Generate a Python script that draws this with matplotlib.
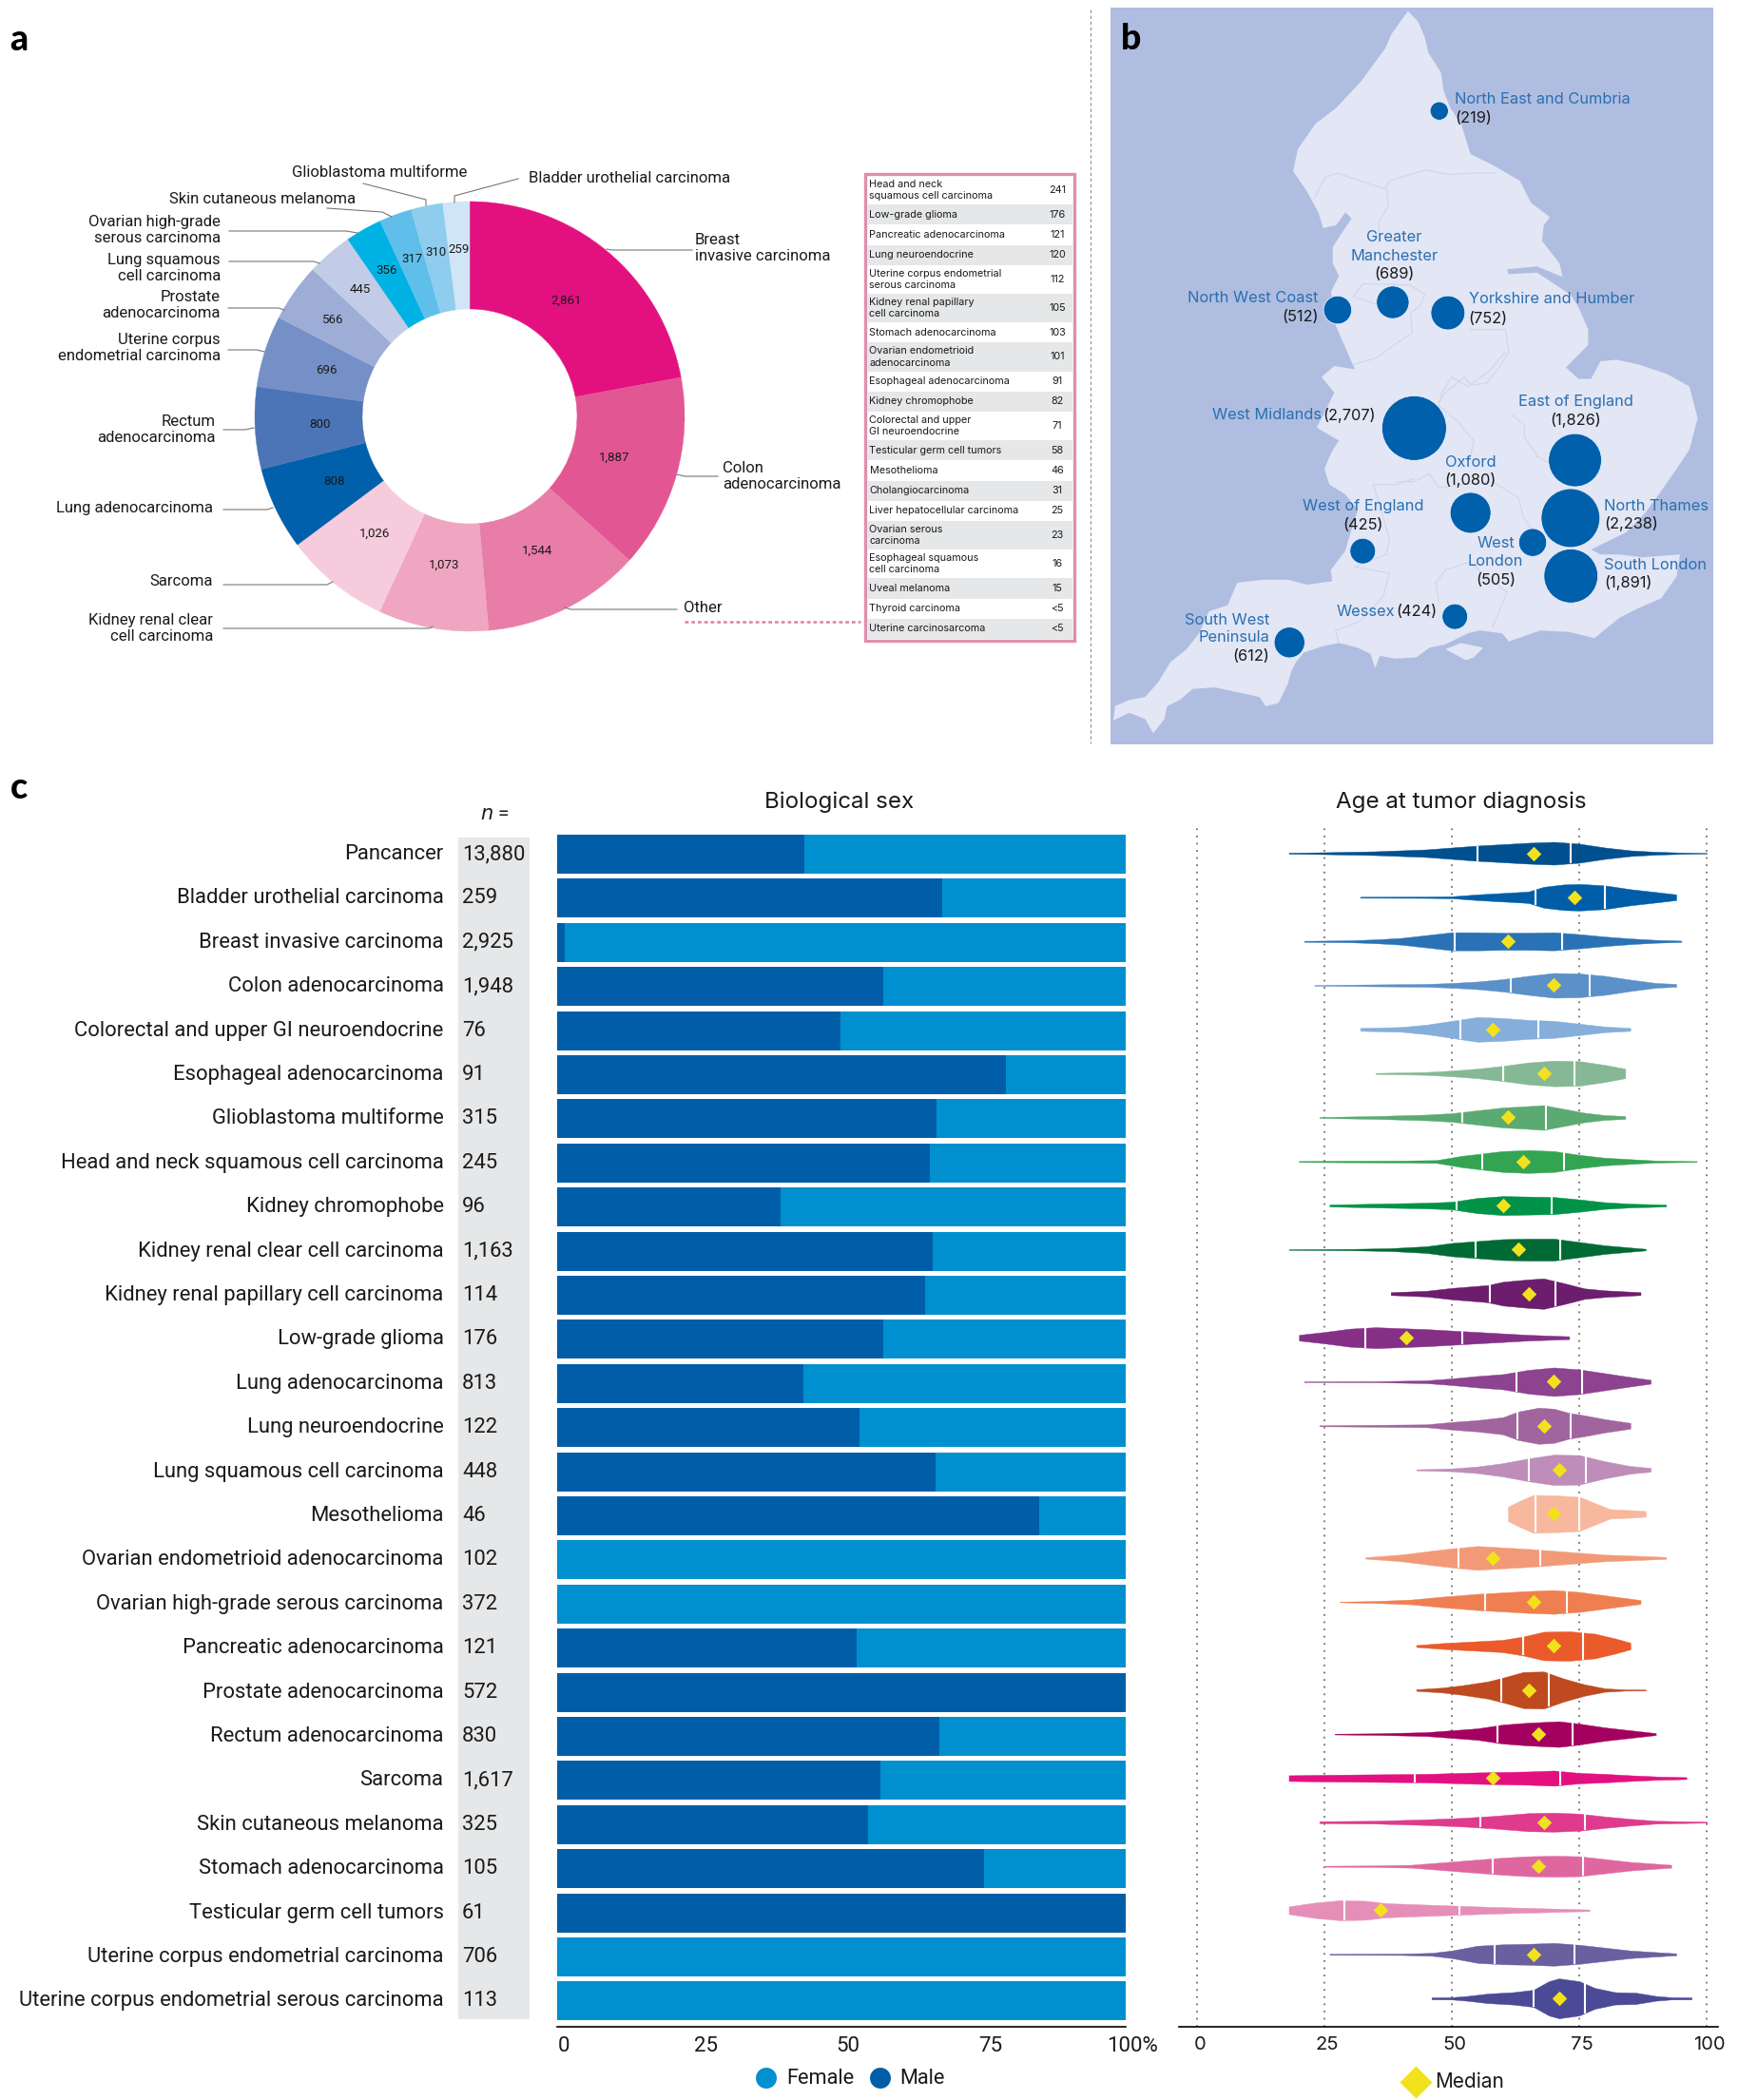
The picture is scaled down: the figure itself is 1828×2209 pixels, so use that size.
#!/usr/bin/env python3
"""
Cohort overview: tumour types, recruitment by region, sex and age by tumour type
"""

import matplotlib
matplotlib.use('Agg')
import matplotlib.pyplot as plt
from matplotlib.patches import Polygon, Rectangle
from matplotlib.transforms import ScaledTranslation
import numpy as np

plt.rcParams['font.family'] = ['Roboto', 'DejaVu Sans']

W, H = 1828, 2209
INK = '#1a1a1a'

# panel a
donut_names = ['Breast', 'Colon', 'Other', 'Kidney', 'Sarcoma', 'Lung adeno', 'Rectum', 'Uterine',
               'Prostate', 'Lung squamous', 'Ovarian', 'Skin', 'Glioblastoma', 'Bladder']
donut_values = [2861, 1887, 1544, 1073, 1026, 808, 800, 696, 566, 445, 356, 317, 310, 259]
donut_colors = ['#E3117F', '#E35694', '#E87DA8', '#F0A6C1', '#F6CCDC', '#0060AC', '#4C75B7',
                '#7590C6', '#9EADD6', '#C3CCE6', '#00B2E3', '#5FBFEA', '#8FCDEF', '#D0E6F6']

donut_labels = [
    ('Glioblastoma multiforme', 307, 182, 'left'),
    ('Bladder urothelial carcinoma', 556, 187, 'left'),
    ('Skin cutaneous melanoma', 374, 210, 'right'),
    ('Ovarian high-grade\nserous carcinoma', 232, 242, 'right'),
    ('Lung squamous\ncell carcinoma', 232, 282, 'right'),
    ('Prostate\nadenocarcinoma', 232, 321, 'right'),
    ('Uterine corpus\nendometrial carcinoma', 232, 366, 'right'),
    ('Rectum\nadenocarcinoma', 227, 452, 'right'),
    ('Lung adenocarcinoma', 224, 534, 'right'),
    ('Sarcoma', 224, 611, 'right'),
    ('Kidney renal clear\ncell carcinoma', 224, 661, 'right'),
    ('Breast\ninvasive carcinoma', 731, 261, 'left'),
    ('Colon\nadenocarcinoma', 760, 501, 'left'),
    ('Other', 719, 639, 'left'),
]
donut_leaders = [
    [(382, 193), (448, 210), (448, 216)],
    [(545, 188), (478, 206), (478, 213)],
    [(344, 219), (402, 223), (412, 228)],
    [(241, 243), (364, 243), (376, 245)],
    [(241, 275), (330, 275), (336, 277)],
    [(240, 324), (293, 324), (299, 326)],
    [(240, 368), (270, 368), (278, 370)],
    [(235, 452), (258, 452), (267, 450)],
    [(235, 536), (281, 536), (287, 534)],
    [(235, 615), (344, 615), (350, 612)],
    [(235, 661), (451, 661), (455, 659)],
    [(728, 263), (643, 263), (638, 262)],
    [(755, 501), (720, 501), (712, 499)],
    [(712, 641), (600, 641), (594, 639)],
]

other_names = ['Head and neck\nsquamous cell carcinoma', 'Low-grade glioma', 'Pancreatic adenocarcinoma',
               'Lung neuroendocrine', 'Uterine corpus endometrial\nserous carcinoma',
               'Kidney renal papillary\ncell carcinoma', 'Stomach adenocarcinoma',
               'Ovarian endometrioid\nadenocarcinoma', 'Esophageal adenocarcinoma', 'Kidney chromophobe',
               'Colorectal and upper\nGI neuroendocrine', 'Testicular germ cell tumors', 'Mesothelioma',
               'Cholangiocarcinoma', 'Liver hepatocellular carcinoma', 'Ovarian serous\ncarcinoma',
               'Esophageal squamous\ncell carcinoma', 'Uveal melanoma', 'Thyroid carcinoma',
               'Uterine carcinosarcoma']
other_values = ['241', '176', '121', '120', '112', '105', '103', '101', '91', '82', '71', '58', '46',
                '31', '25', '23', '16', '15', '<5', '<5']

# panel b, in the map's own units
map_outline = [(765, 22), (790, 45), (805, 75), (815, 110), (845, 150), (852, 190), (868, 225), (894, 258),
               (917, 321), (971, 344), (1037, 377), (1064, 423), (1110, 453), (1095, 470), (1091, 503),
               (1133, 549), (1141, 578), (1079, 556), (1006, 562), (1009, 572), (1079, 569), (1125, 595),
               (1160, 615), (1180, 642), (1203, 688), (1203, 720), (1149, 767), (1179, 791), (1210, 791),
               (1233, 754), (1272, 751), (1326, 761), (1395, 781), (1449, 807), (1469, 873), (1449, 939),
               (1418, 979), (1380, 1026), (1341, 1072), (1295, 1112), (1233, 1138), (1210, 1148),
               (1233, 1158), (1280, 1158), (1334, 1164), (1426, 1158), (1418, 1204), (1380, 1250),
               (1326, 1270), (1280, 1290), (1218, 1333), (1156, 1320), (1087, 1317), (1010, 1340),
               (994, 1323), (940, 1317), (910, 1323), (856, 1346), (817, 1353), (786, 1373), (735, 1376),
               (697, 1370), (685, 1396), (674, 1366), (643, 1353), (597, 1343), (558, 1350), (512, 1363),
               (493, 1383), (481, 1403), (473, 1429), (450, 1469), (419, 1475), (404, 1456), (350, 1446),
               (296, 1436), (242, 1439), (211, 1462), (180, 1475), (173, 1502), (146, 1532), (126, 1502),
               (88, 1489), (49, 1505), (53, 1475), (88, 1462), (126, 1456), (157, 1426), (188, 1383),
               (227, 1356), (257, 1323), (281, 1277), (327, 1264), (350, 1217), (412, 1211), (473, 1211),
               (520, 1221), (581, 1214), (577, 1191), (612, 1151), (628, 1105), (643, 1065), (612, 1032),
               (574, 1012), (562, 979), (578, 946), (597, 920), (543, 893), (563, 860), (586, 820),
               (555, 787), (586, 764), (636, 771), (617, 734), (590, 681), (578, 609), (597, 576),
               (582, 549), (582, 516), (601, 490), (628, 456), (613, 443), (590, 470), (559, 476),
               (547, 443), (520, 400), (486, 357), (497, 311), (540, 258), (590, 225), (650, 170),
               (710, 100), (725, 70)]
wight_outline = [(856, 1356), (894, 1343), (948, 1353), (925, 1373), (906, 1379), (871, 1363)]
map_borders = [
    [(540, 410), (563, 370), (594, 361), (648, 377), (709, 394), (721, 377), (809, 354), (863, 364), (925, 361), (975, 361)],
    [(713, 394), (717, 430), (694, 463), (694, 483)],
    [(640, 609), (655, 592), (771, 595), (806, 615), (794, 638), (771, 655), (775, 695), (740, 715), (686, 748), (632, 761)],
    [(640, 609), (632, 619), (686, 635)],
    [(917, 688), (1002, 688), (1010, 734), (987, 767), (956, 800), (917, 804), (902, 787), (856, 820), (840, 840)],
    [(1002, 734), (964, 774), (910, 807), (871, 787), (848, 820), (840, 847), (886, 880), (925, 920), (917, 953)],
    [(1018, 867), (1048, 887), (1048, 913), (1079, 953), (1106, 966)],
    [(740, 1006), (779, 1006), (817, 989), (840, 1019), (894, 1012), (971, 1006), (1033, 1039), (1045, 1078), (1079, 1125)],
    [(833, 1217), (856, 1191), (913, 1174), (1006, 1237), (971, 1310)],
    [(833, 1217), (840, 1257)],
    [(681, 1012), (735, 1012), (782, 999)],
    [(681, 1012), (720, 1125), (712, 1158), (635, 1184), (720, 1197), (705, 1244), (651, 1297), (589, 1317), (597, 1343)],
]

region_counts = [219, 512, 689, 752, 2707, 1826, 1080, 2238, 505, 425, 1891, 424, 612]
region_x = [841, 594, 728, 862, 780, 1171, 917, 1160, 1068, 655, 1161, 879, 477]
region_y = [231, 647, 631, 653, 894, 961, 1071, 1082, 1133, 1151, 1203, 1288, 1342]

map_blue_text = [
    ('North East and Cumbria', 878, 207, 'left'), ('Greater', 732, 495, 'center'),
    ('Manchester', 732, 534, 'center'), ('North West Coast', 548, 623, 'right'),
    ('Yorkshire and Humber', 912, 625, 'left'), ('West Midlands', 554, 867, 'right'),
    ('East of England', 1172, 838, 'center'), ('Oxford', 917, 965, 'center'),
    ('North Thames', 1242, 1057, 'left'), ('West of England', 656, 1058, 'center'),
    ('West', 978, 1135, 'center'), ('London', 978, 1173, 'center'),
    ('South London', 1241, 1180, 'left'), ('Wessex', 734, 1278, 'right'),
    ('South West', 428, 1295, 'right'), ('Peninsula', 428, 1332, 'right'),
]
map_count_text = [
    ('(219)', 878, 246, 'left'), ('(689)', 732, 572, 'center'), ('(512)', 548, 662, 'right'),
    ('(752)', 912, 665, 'left'), ('(2,707)', 687, 867, 'right'), ('(1,826)', 1172, 877, 'center'),
    ('(1,080)', 917, 1002, 'center'), ('(2,238)', 1242, 1094, 'left'), ('(425)', 656, 1097, 'center'),
    ('(505)', 978, 1213, 'center'), ('(1,891)', 1241, 1218, 'left'), ('(424)', 836, 1278, 'right'),
    ('(612)', 428, 1372, 'right'),
]

# panel c
categories = ['Pancancer', 'Bladder urothelial carcinoma', 'Breast invasive carcinoma', 'Colon adenocarcinoma',
              'Colorectal and upper GI neuroendocrine', 'Esophageal adenocarcinoma', 'Glioblastoma multiforme',
              'Head and neck squamous cell carcinoma', 'Kidney chromophobe', 'Kidney renal clear cell carcinoma',
              'Kidney renal papillary cell carcinoma', 'Low-grade glioma', 'Lung adenocarcinoma',
              'Lung neuroendocrine', 'Lung squamous cell carcinoma', 'Mesothelioma',
              'Ovarian endometrioid adenocarcinoma', 'Ovarian high-grade serous carcinoma',
              'Pancreatic adenocarcinoma', 'Prostate adenocarcinoma', 'Rectum adenocarcinoma', 'Sarcoma',
              'Skin cutaneous melanoma', 'Stomach adenocarcinoma', 'Testicular germ cell tumors',
              'Uterine corpus endometrial carcinoma', 'Uterine corpus endometrial serous carcinoma']
n_labels = ['13,880', '259', '2,925', '1,948', '76', '91', '315', '245', '96', '1,163', '114', '176', '813',
            '122', '448', '46', '102', '372', '121', '572', '830', '1,617', '325', '105', '61', '706', '113']
male_pct = [43.5, 67.8, 1.3, 57.4, 49.9, 79, 66.8, 65.6, 39.3, 66.1, 64.7, 57.4, 43.3, 53.2, 66.6, 84.7,
            0, 0, 52.7, 100, 67.3, 56.9, 54.6, 75, 100, 0, 0]

violin_colors = ['#00508F', '#005EA8', '#2A72B5', '#5B90C8', '#85AEDB', '#86B896', '#5BAA72', '#33A452',
                 '#009347', '#006A36', '#6C1D6D', '#853086', '#8D4390', '#A0659E', '#BE8DB9', '#F7B89E',
                 '#F29A78', '#EF7F50', '#EB5A2A', '#BF4A1F', '#A3005F', '#E3117F', '#DF3A8D', '#DF679F',
                 '#E58FB8', '#6A5F9F', '#4A4A97']
age_q1 = [55, 66.4, 50.5, 61.6, 51.7, 60, 52, 56, 51, 54.7, 57.5, 33, 62.7, 62.8, 65, 66.4, 51.3, 56.5, 64,
          59.6, 59, 42.7, 55.5, 58, 29, 58.4, 66]
age_median = [66, 74, 61, 70, 58, 68, 61, 64, 60, 63, 65, 41, 70, 68, 71, 70, 58, 66, 70, 65, 67, 58, 68, 67,
              36, 66, 71]
age_q3 = [73.3, 80, 71.7, 77, 66.9, 74, 68.5, 72, 69.5, 71.3, 70.3, 52, 75.5, 73.3, 76.3, 75, 67.3, 72.6, 75.7,
          69, 73.7, 71.3, 76, 75.7, 51.5, 74, 76]
# outline of each violin as (age, half width)
violin_profiles = [
    [(18, .5), (25, 1), (35, 2), (45, 4), (50, 6), (55, 8), (60, 9.5), (65, 11), (70, 12), (75, 10), (80, 6), (85, 3), (90, 1.5), (95, .7), (100, .3)],
    [(32, .5), (45, .7), (50, 1), (55, 3), (60, 4.5), (65, 6), (68, 11), (72, 13.5), (75, 14), (80, 12.5), (85, 8.5), (90, 5.5), (94, 3)],
    [(21, .5), (30, 1), (35, 2), (40, 3.5), (45, 6.5), (50, 9.5), (55, 9.5), (60, 9), (65, 9), (70, 9.5), (75, 7.5), (80, 5), (85, 3), (90, 1.5), (95, .7)],
    [(23, .3), (35, 1), (45, 1.5), (50, 2.5), (55, 4), (60, 6.5), (65, 10), (70, 13), (75, 12.5), (80, 10), (85, 6), (90, 2.5), (94, 1.5)],
    [(32, 1.5), (40, 2.5), (45, 5), (50, 9), (55, 13), (60, 12), (65, 10), (70, 9), (75, 6), (80, 3), (85, 1.5)],
    [(35, .5), (45, 1.5), (50, 3), (55, 5), (60, 8), (65, 11.5), (70, 13.5), (75, 13), (80, 9), (84, 5)],
    [(24, .5), (35, 1.5), (45, 3), (50, 4.5), (55, 7.5), (60, 10.5), (65, 12), (68, 13), (72, 9), (76, 5), (80, 2.5), (84, 1.5)],
    [(20, .5), (30, .8), (40, 1), (47, 1.5), (52, 6), (56, 8.5), (60, 11), (65, 12), (70, 11), (75, 7), (80, 4), (85, 2.5), (90, 1), (98, .4)],
    [(26, 1), (35, 2), (45, 3), (50, 4), (55, 8), (60, 10), (65, 9.5), (70, 9), (75, 6.5), (80, 3.5), (85, 2), (92, 1)],
    [(18, .3), (30, .7), (38, 1.5), (45, 3.5), (50, 7), (55, 9), (60, 11), (65, 11.5), (70, 11.5), (75, 8), (80, 4.5), (88, .8)],
    [(38, 1.5), (45, 3), (50, 6), (57, 9), (60, 12.5), (65, 15), (68, 16), (72, 11), (76, 5.5), (80, 3.5), (87, 1.5)],
    [(20, 3), (25, 6), (30, 9.5), (35, 11), (40, 10), (45, 9), (50, 7.5), (55, 6), (60, 4.5), (65, 3), (73, 1.5)],
    [(21, .3), (35, .5), (45, 1.5), (50, 3.5), (55, 6), (60, 8), (65, 12.5), (70, 15), (75, 13), (80, 9), (85, 5), (89, 2)],
    [(24, .5), (35, 1), (45, 1.5), (50, 4), (55, 6), (60, 9), (63, 15), (67, 19), (70, 18), (73, 13.5), (76, 11), (80, 7), (85, 3)],
    [(43, .5), (50, 1.5), (55, 3.5), (60, 7), (65, 12), (70, 16), (75, 15.5), (80, 9), (85, 4), (89, 2)],
    [(61, 7.5), (63, 13), (66, 20), (70, 19.5), (75, 18), (78, 11.5), (81, 5), (85, 4), (88, 3)],
    [(33, .7), (40, 3.5), (46, 7.5), (50, 10), (55, 12.5), (60, 11), (65, 9.5), (70, 7.5), (75, 5.5), (80, 3.5), (85, 2.5), (92, 1)],
    [(28, .3), (35, 1), (42, 2.5), (48, 5.5), (55, 8.5), (60, 10), (65, 11.5), (70, 12.5), (75, 10.5), (80, 7), (87, 2)],
    [(43, 1), (48, 3), (55, 5), (60, 6.5), (64, 10), (68, 15), (73, 15.5), (78, 13), (82, 8), (85, 3.5)],
    [(43, .8), (48, 2.5), (52, 5), (57, 9), (60, 13), (64, 19), (68, 19.5), (72, 12), (76, 6), (80, 1.8), (84, .6), (88, .5)],
    [(27, .4), (35, .8), (45, 2), (50, 4), (55, 6), (60, 10), (65, 12), (71, 13.5), (75, 11), (80, 7), (85, 4), (90, 1)],
    [(18, 3), (25, 3.5), (35, 4), (45, 4.5), (55, 6), (65, 7), (70, 8), (75, 5.5), (80, 4.5), (85, 3), (90, 1.8), (96, 1)],
    [(24, 1), (35, 1.5), (45, 3), (52, 4.5), (58, 6.5), (65, 9.5), (70, 10), (75, 9), (80, 6), (85, 3.5), (90, 1.5), (95, 1), (100, .5)],
    [(25, .5), (35, .8), (42, 1.5), (48, 4), (55, 7), (60, 9), (65, 10.5), (70, 11), (75, 10.5), (80, 7.5), (85, 4.5), (93, 1.5)],
    [(18, 4), (23, 8), (28, 10.5), (33, 10), (37, 7.5), (42, 6.5), (50, 5), (58, 3.5), (65, 2.5), (72, 1.5), (77, .8)],
    [(26, .5), (40, .7), (46, 1.5), (50, 4), (55, 9), (60, 10.5), (65, 11), (70, 12), (75, 10), (80, 7), (85, 4), (94, 1)],
    [(46, 1), (50, 1.2), (53, 2.5), (57, 5), (62, 6.5), (66, 9), (69, 18), (71, 21), (75, 18), (78, 11), (82, 6.5), (86, 6), (90, 2.5), (93, 1.2), (97, 1)],
]

BAR_TOP = 898.5
BAR_STEP = 46.4
VIOLIN_TOP = 897.5
VIOLIN_STEP = 46.33
PANEL_TOP = 871
PANEL_BOTTOM = 2132


def px_axes(fig, left, top, right, bottom, **kwargs):
    """Axes placed with picture pixels"""
    return fig.add_axes([left / W, 1 - bottom / H, (right - left) / W, (bottom - top) / H], **kwargs)


def draw_donut(fig, over):
    ax = px_axes(fig, 268, 212, 720, 664)
    wedges, _ = ax.pie(donut_values, colors=donut_colors, startangle=90, counterclock=False, radius=1,
                       wedgeprops={'width': 0.5, 'linewidth': 0.3})
    for wedge, color in zip(wedges, donut_colors):
        wedge.set_edgecolor(color)
    for wedge, value in zip(wedges, donut_values):
        angle = np.deg2rad((wedge.theta1 + wedge.theta2) / 2)
        r = 0.7 if value > 600 else 0.78
        ax.text(r * np.cos(angle), r * np.sin(angle), f'{value:,}', ha='center', va='center',
                fontsize=9.5, color=INK)
    ax.set_xlim(-1, 1)
    ax.set_ylim(-1, 1)

    for text, x, y, ha in donut_labels:
        over.text(x, y, text, ha=ha, va='center', fontsize=12, color=INK, linespacing=1.2)
    for line in donut_leaders:
        xs, ys = zip(*line)
        over.plot(xs, ys, color='#777777', lw=0.8)
    over.plot([720, 905], [654, 654], color='#DF7FA8', lw=1.8, linestyle=(0, (1.5, 1.2)))


def draw_inset(over):
    over.add_patch(Rectangle((910, 183), 220, 491, facecolor='white', edgecolor='#DF8FB0', lw=2.4))
    y = 185
    for i, (name, value) in enumerate(zip(other_names, other_values)):
        h = 30.2 if '\n' in name else 21.2
        if i % 2 == 1:
            over.add_patch(Rectangle((912, y), 216, h, facecolor='#E6E7E8', edgecolor='none'))
        over.text(914.5, y + h / 2, name, ha='left', va='center', fontsize=7.8, color=INK, linespacing=1.3,
                  family='Inter')
        over.text(1112, y + h / 2, value, ha='center', va='center', fontsize=7.8, color=INK, family='Inter')
        y += h


def draw_map(fig):
    ax = px_axes(fig, 1168, 8, 1802, 783)
    ax.set_xlim(42, 1507)
    ax.set_ylim(1555, 15)
    ax.set_facecolor('#AFBDE0')
    ax.set_xticks([])
    ax.set_yticks([])
    for spine in ax.spines.values():
        spine.set_visible(False)
    ax.add_patch(Polygon(map_outline, closed=True, facecolor='#E2E6F5', edgecolor='none'))
    ax.add_patch(Polygon(wight_outline, closed=True, facecolor='#E2E6F5', edgecolor='none'))
    for line in map_borders:
        xs, ys = zip(*line)
        ax.plot(xs, ys, color='#D0D6EA', lw=0.8)
    ax.scatter(region_x, region_y, s=np.array(region_counts) * 0.887, color='#0060AC', edgecolors='#EDF0FA',
               linewidths=0.6, zorder=3)
    for text, x, y, ha in map_blue_text:
        ax.text(x, y, text, ha=ha, va='center', fontsize=11.8, color='#2A6FB0', family='Inter', zorder=4)
    for text, x, y, ha in map_count_text:
        ax.text(x, y, text, ha=ha, va='center', fontsize=11.8, color=INK, family='Inter', zorder=4)


def style_bottom_axis(fig, ax, labels, shift_px, row_top, row_step, size, family):
    """Rows share one scale; only the bottom line and its labels show"""
    ax.set_ylim((PANEL_BOTTOM - row_top) / row_step, (PANEL_TOP - row_top) / row_step)
    for side in ['top', 'left', 'right']:
        ax.spines[side].set_visible(False)
    ax.spines['bottom'].set_linewidth(1.2)
    ax.set_xticks([0, 25, 50, 75, 100], labels)
    ax.tick_params(axis='x', length=0, pad=7, labelsize=size, labelcolor=INK)
    offset = ScaledTranslation(shift_px / 100, 0, fig.dpi_scale_trans)
    for label in ax.get_xticklabels():
        label.set_transform(label.get_transform() + offset)
        label.set_family(family)


def draw_sex_bars(fig, over):
    ax = px_axes(fig, 586, PANEL_TOP, 1184, PANEL_BOTTOM)
    rows = np.arange(len(categories))
    female_pct = 100 - np.array(male_pct)
    bar_h = 41 / BAR_STEP
    ax.barh(rows, male_pct, height=bar_h, color='#005EA8')
    ax.barh(rows, female_pct, left=male_pct, height=bar_h, color='#0090CF')
    ax.set_xlim(0, 100)
    style_bottom_axis(fig, ax, ['0', '25', '50', '75', '100%'], 7, BAR_TOP, BAR_STEP, 16, 'Roboto')
    ax.set_yticks(rows, categories)
    ax.tick_params(axis='y', length=0, pad=86, labelsize=15.8, labelcolor=INK)
    lift = ScaledTranslation(0, 2.5 / 100, fig.dpi_scale_trans)
    for label in ax.get_yticklabels():
        label.set_transform(label.get_transform() + lift)

    over.add_patch(Rectangle((482, 881), 75, 1243, facecolor='#E6E7E8', edgecolor='none'))
    for i, label in enumerate(n_labels):
        over.text(486, BAR_TOP + i * BAR_STEP, label, ha='left', va='center', fontsize=15.8, color=INK)
    over.text(520, 857, r'$\mathit{n}$ =', ha='center', va='center', fontsize=15, color=INK)
    over.text(883, 844, 'Biological sex', ha='center', va='center', fontsize=17.4, color=INK, family='Inter')

    over.scatter([806, 926], [2186, 2186], s=250, color=['#0090CF', '#005EA8'], linewidths=0)
    over.text(827, 2187, 'Female', ha='left', va='center', fontsize=15.7, color=INK)
    over.text(946, 2187, 'Male', ha='left', va='center', fontsize=15.7, color=INK)


def draw_violins(fig, over):
    ax = px_axes(fig, 1240, PANEL_TOP, 1807, PANEL_BOTTOM)
    ax.set_xlim(-3.54, 102.2)
    ax.patch.set_alpha(0)
    for age in [0, 25, 50, 75, 100]:
        ax.axvline(age, color='#707070', lw=1.3, linestyle=(0, (1, 3.2)), zorder=0)
    for i, profile in enumerate(violin_profiles):
        ages, widths = np.array(profile).T
        half = widths / VIOLIN_STEP
        ax.fill_between(ages, i - half, i + half, color=violin_colors[i], linewidth=0.3, zorder=2)
        for q in (age_q1[i], age_q3[i]):
            h = np.interp(q, ages, half)
            ax.plot([q, q], [i - h, i + h], color='white', lw=1.5, solid_capstyle='butt', zorder=3)
    ax.scatter(age_median, np.arange(len(age_median)), marker='D', s=62, color='#F2E21D', linewidths=0, zorder=4)
    style_bottom_axis(fig, ax, ['0', '25', '50', '75', '100'], 3, VIOLIN_TOP, VIOLIN_STEP, 14.5, 'Inter')
    ax.set_yticks([])

    over.text(1537, 844, 'Age at tumor diagnosis', ha='center', va='center', fontsize=17.4, color=INK, family='Inter')
    over.scatter([1489], [2190], marker='D', s=300, color='#F2E21D', linewidths=0)
    over.text(1509, 2190, 'Median', ha='left', va='center', fontsize=15, color=INK, family='Inter')


def main():
    fig = plt.figure(figsize=(W / 100, H / 100), dpi=100)

    # pixel overlay for labels and other free text
    over = px_axes(fig, 0, 0, W, H)
    over.set_xlim(0, W)
    over.set_ylim(H, 0)
    over.axis('off')
    over.set_zorder(5)

    draw_map(fig)
    draw_donut(fig, over)
    draw_inset(over)
    draw_sex_bars(fig, over)
    draw_violins(fig, over)

    over.plot([1147, 1147], [10, 782], color='#8c8c8c', lw=0.8, linestyle=(0, (3, 2.5)))
    for letter, x, y in [('a', 20, 42), ('b', 1190, 41), ('c', 20, 829)]:
        over.text(x, y, letter, ha='center', va='center', fontsize=27, fontweight='black', color='black',
                  family='Lato')

    fig.savefig('out.png', dpi=100)
    plt.close(fig)


if __name__ == "__main__":
    main()
